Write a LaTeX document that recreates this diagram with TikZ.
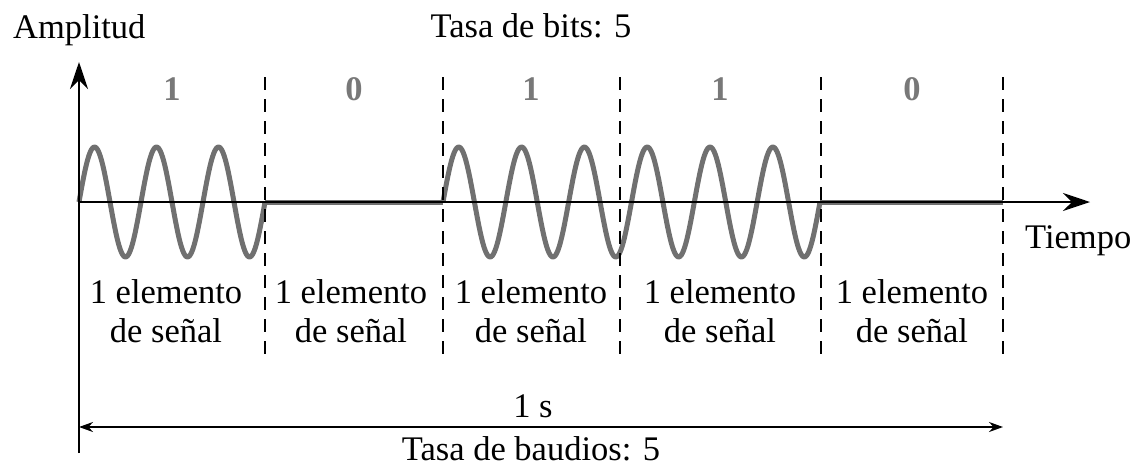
\documentclass[tikz,border=0pt]{standalone}
\usepackage{fontspec}
\setmainfont{Liberation Serif}
\usetikzlibrary{arrows.meta}
\definecolor{wavegray}{RGB}{112,112,112}
\definecolor{bitgray}{RGB}{120,120,120}
\begin{document}
\begin{tikzpicture}[x=1pt,y=-1pt,
  lbl/.style={font=\fontsize{34.5}{38}\selectfont, inner sep=0pt, anchor=base},
  bitlbl/.style={lbl, text=bitgray, font=\fontsize{34.5}{38}\selectfont\bfseries},
  axis/.style={line width=2pt, -{Stealth[length=27pt,width=18pt,inset=9pt]}},
  sep/.style={line width=1.8pt, dash pattern=on 13pt off 9pt},
  wave/.style={line width=5pt, wavegray, line join=round},
  span/.style={line width=1.8pt, {Stealth[length=14pt,width=10pt]}-{Stealth[length=14pt,width=10pt]}}]
\useasboundingbox (0,0) rectangle (1137,467);
% axes
\coordinate (o) at (79,202);
\coordinate (ybot) at (79,453);
\coordinate (ytop) at (79,62);
\coordinate (xend) at (1090,202);
% separators
\foreach \n/\x in {a/265,b/443,c/620,d/821,e/1003}{
  \coordinate (\n top) at (\x,77);
  \coordinate (\n bot) at (\x,357);
}
% waveform
\draw[wave] plot[domain=79:265, samples=150, smooth] (\x,{202-55*sin(5.80645*(\x-79))});
\draw[wave] (265,202) -- (443,202);
\draw[wave] plot[domain=443:820, samples=300, smooth] (\x,{202-55*sin(5.72944*(\x-443))});
\draw[wave] (820,202) -- (1003,202);
\draw[axis] (ybot) -- (ytop);
\draw[axis] (o) -- (xend);
\foreach \n in {a,b,c,d,e}{ \draw[sep] (\n top) -- (\n bot); }
% labels
\node[lbl, anchor=base west] (amp) at (13,38) {Amplitud};
\node[lbl] (bits) at (531,37) {Tasa de bits: 5};
\node[lbl, anchor=base west] (tiempo) at (1025,248) {Tiempo};
\foreach \n/\x/\b in {1/172/1,2/354/0,3/531/1,4/720/1,5/912/0}{
  \node[bitlbl] (bit\n) at (\x,100) {\b};
}
\foreach \n/\x in {1/166,2/351,3/531,4/720,5/912}{
  \node[lbl] (el\n) at (\x,303) {1 elemento};
  \node[lbl] (ds\n) at (\x,342) {de señal};
}
% 1 s span
\coordinate (sl) at (79,427);
\coordinate (sr) at (1003,427);
\draw[span] (sl) -- (sr);
\node[lbl] (one) at (533,417) {1 s};
\node[lbl] (baud) at (531,460) {Tasa de baudios: 5};
\end{tikzpicture}
\end{document}
